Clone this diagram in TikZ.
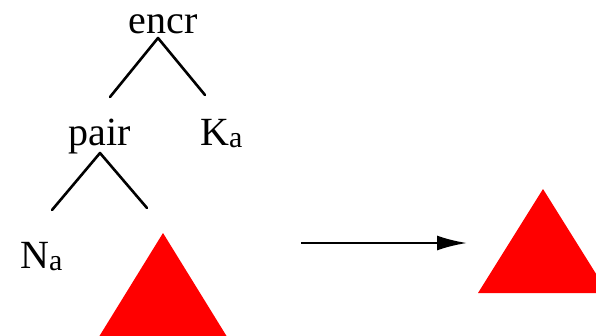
\documentclass[tikz,border=0pt]{standalone}
\usepackage{fontspec}
\setmainfont{Liberation Serif}
\usetikzlibrary{arrows.meta}
\newcommand{\subidx}[1]{\raisebox{-2pt}{\fontsize{30}{36}\selectfont #1}}
\begin{document}
\begin{tikzpicture}[
  x=1pt,
  y=-1pt,
  line cap=round,
  line join=round,
  lbl/.style={inner sep=0pt,anchor=base,font=\fontsize{40}{48}\selectfont},
  branch/.style={line width=2.6pt},
  term/.style={fill=red}
]
  \useasboundingbox (0,0) rectangle (596,335);
  \clip (0,0) rectangle (596,335);

  % Labels
  \node[lbl] (encr) at (163,33) {encr};
  \node[lbl] (pair) at (100,145) {pair};
  \node[lbl,anchor=base west] (ka) at (200,145) {K\subidx{a}};
  \node[lbl,anchor=base west] (na) at (20,268) {N\subidx{a}};

  % Branch ends
  \coordinate (top1) at (158,38);
  \coordinate (left1) at (110,97);
  \coordinate (right1) at (205,95);
  \coordinate (top2) at (100,153);
  \coordinate (left2) at (52,210);
  \coordinate (right2) at (147,208);

  % Tree
  \draw[branch] (left1)--(top1)--(right1);
  \draw[branch] (left2)--(top2)--(right2);

  % Triangles
  \fill[term] (163,233)--(229,340)--(97,340)--cycle;
  \fill[term] (543,189)--(608,293)--(478,293)--cycle;

  % Arrow
  \coordinate (from) at (301,243);
  \coordinate (to) at (467,243);
  \draw[branch,line cap=butt,
    -{Latex[length=30pt,width=15pt]}] (from)--(to);
\end{tikzpicture}
\end{document}
